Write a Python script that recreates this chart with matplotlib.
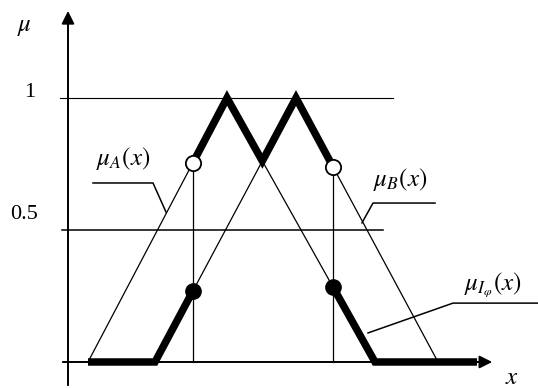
import matplotlib
matplotlib.use('Agg')
import matplotlib.pyplot as plt
import numpy as np

# fuzzy sets A and B (triangles), cut points x1, x2
A_X = [2.0, 15.9, 30.7]
B_X = [8.7, 22.8, 37.0]
TRI_Y = [0.0, 1.0, 0.0]
X1 = 12.5
X2 = 26.5
X_END = 40.9
Y_TICKS = [0.5, 1.0]
Y_TICK_LABELS = ['0.5', '1']

plt.rcParams['mathtext.fontset'] = 'stix'
plt.rcParams['font.family'] = ['Liberation Serif', 'DejaVu Serif']


def mu(xp, x):
    return np.interp(x, xp, TRI_Y)


fig = plt.figure(figsize=(5.38, 3.88), dpi=100)
ax = fig.add_axes([0, 0, 1, 1])
ax.set_xlim(-6.8, 47.0)
ax.set_ylim(-0.0985, 1.371)
ax.axis('off')

# axes with arrows
ax.annotate('', xy=(0, 1.34), xytext=(0, -0.0985),
            arrowprops=dict(arrowstyle='-|>', lw=1.4, color='k', mutation_scale=19))
ax.annotate('', xy=(42.7, 0), xytext=(-0.8, 0),
            arrowprops=dict(arrowstyle='-|>', lw=1.4, color='k', mutation_scale=19))

# level lines
ax.plot([-0.8, 32.5], [1, 1], color='k', lw=0.8)
ax.plot([-0.6, 31.5], [0.5, 0.5], color='k', lw=1.1)

# triangles
ax.plot(A_X, TRI_Y, color='k', lw=0.9)
ax.plot(B_X, TRI_Y, color='k', lw=0.9)

muA1, muB1 = mu(A_X, X1), mu(B_X, X1)
muA2, muB2 = mu(A_X, X2), mu(B_X, X2)

# vertical cut lines
ax.plot([X1, X1], [0, muA1], color='k', lw=0.9)
ax.plot([X2, X2], [0, muB2], color='k', lw=0.9)

# intersection of A right edge and B left edge
sa = -1.0 / (A_X[2] - A_X[1])
sb = 1.0 / (B_X[1] - B_X[0])
x_int = (1 - sa * A_X[1] + sb * B_X[0]) / (sb - sa)

thick = dict(color='k', lw=5.4, solid_joinstyle='miter', solid_capstyle='butt')
lx = [A_X[0], B_X[0], X1]
ax.plot(lx, mu(B_X, lx), **thick)
mx = [X1, A_X[1], x_int, B_X[1], X2]
ax.plot(mx, np.maximum(mu(A_X, mx), mu(B_X, mx)), **thick)
rx = [X2, A_X[2], X_END]
ax.plot(rx, mu(A_X, rx), **thick)

# markers
ax.plot([X1, X2], [muA1, muB2], 'o', ms=11, mfc='white', mec='k', mew=1.3, zorder=5)
ax.plot([X1, X2], [muB1, muA2], 'o', ms=11, mfc='k', mec='k', zorder=5)

# leaders
ax.plot([2.5, 8.5, 9.8], [0.678, 0.678, 0.568], color='k', lw=1.1)
ax.plot([36.7, 30.5, 29.4], [0.602, 0.602, 0.527], color='k', lw=1.1)
ax.plot([47.0, 38.5, 30.0], [0.223, 0.223, 0.11], color='k', lw=1.1)

# labels
ax.text(5.5, 0.77, r'$\mu_A(x)$', fontsize=18, ha='center', va='center')
ax.text(33.2, 0.69, r'$\mu_B(x)$', fontsize=18, ha='center', va='center')
ax.text(42.5, 0.29, r'$\mu_{I_\varphi}(x)$', fontsize=18, ha='center', va='center')
ax.text(-4.4, 1.27, r'$\mu$', fontsize=18, ha='center', va='center')
ax.text(44.4, -0.085, r'$x$', fontsize=18, ha='center', va='baseline')
ax.text(-3.8, Y_TICKS[1] + 0.02, Y_TICK_LABELS[1], fontsize=16, ha='center', va='center')
ax.text(-4.4, Y_TICKS[0] + 0.06, Y_TICK_LABELS[0], fontsize=16, ha='center', va='center')

fig.savefig('out.png', dpi=100)
